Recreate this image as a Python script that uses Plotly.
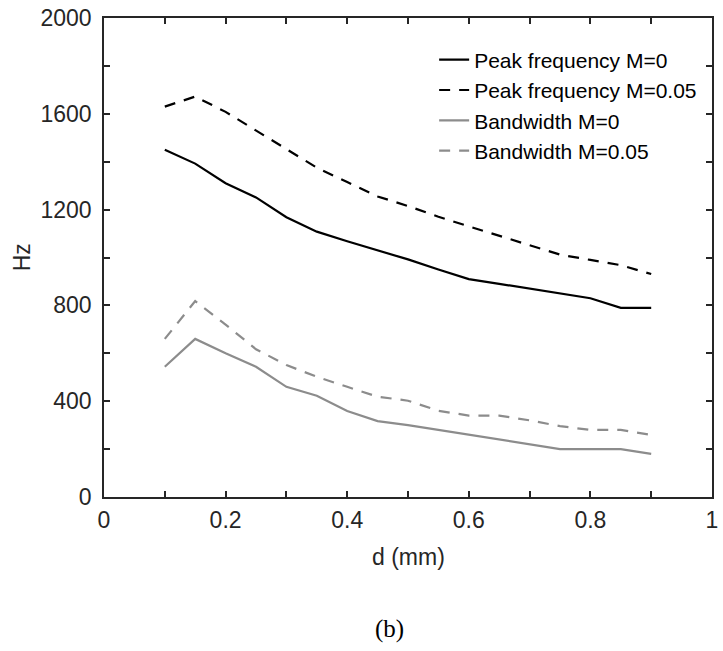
import plotly.graph_objects as go

d = [0.1, 0.15, 0.2, 0.25, 0.3, 0.35, 0.4, 0.45, 0.5, 0.55, 0.6, 0.65, 0.7, 0.75, 0.8, 0.85, 0.9]
peak_m0 = [1450, 1392, 1310, 1251, 1168, 1108, 1068, 1030, 992, 950, 910, 890, 870, 850, 830, 790, 790]
peak_m005 = [1630, 1672, 1608, 1530, 1455, 1375, 1315, 1255, 1215, 1170, 1130, 1090, 1050, 1012, 990, 968, 931]
bw_m0 = [544, 660, 600, 544, 460, 423, 359, 317, 300, 280, 260, 240, 220, 200, 200, 200, 180]
bw_m005 = [660, 818, 720, 617, 551, 502, 460, 419, 402, 360, 340, 340, 320, 296, 280, 280, 259]

series_names = ["Peak frequency M=0", "Peak frequency M=0.05", "Bandwidth M=0", "Bandwidth M=0.05"]

x_tickvals = [0, 0.1, 0.2, 0.3, 0.4, 0.5, 0.6, 0.7, 0.8, 0.9, 1]
x_ticktext = ["0", "", "0.2", "", "0.4", "", "0.6", "", "0.8", "", "1"]
y_tickvals = [0, 200, 400, 600, 800, 1000, 1200, 1400, 1600, 1800, 2000]
y_ticktext = ["0", "", "400", "", "800", "", "1200", "", "1600", "", "2000"]

AX = "#262626"
FONT = "Liberation Sans, Arial, sans-serif"

fig = go.Figure()
styles = [
    (peak_m0, dict(color="black", width=2.2, dash="solid")),
    (peak_m005, dict(color="black", width=2.2, dash="11px,9px")),
    (bw_m0, dict(color="#8c8c8c", width=2.2, dash="solid")),
    (bw_m005, dict(color="#8c8c8c", width=2.2, dash="11px,9px")),
]
for name, (vals, ln) in zip(series_names, styles):
    fig.add_trace(go.Scatter(x=d, y=vals, mode="lines", name=name, line=ln))

axis_common = dict(
    showgrid=False, zeroline=False, showline=True, linecolor=AX, linewidth=1.5,
    mirror="ticks", ticks="inside", ticklen=6, tickwidth=1.5, tickcolor=AX,
    tickfont=dict(family=FONT, size=23, color=AX),
)
fig.update_xaxes(range=[0, 1], tickvals=x_tickvals, ticktext=x_ticktext,
                 ticklabelstandoff=2, **axis_common)
fig.update_yaxes(range=[0, 2000], tickvals=y_tickvals, ticktext=y_ticktext,
                 ticklabelstandoff=6, **axis_common)

fig.update_layout(
    width=723, height=651,
    margin=dict(l=104, r=5, t=18, b=154),
    paper_bgcolor="white", plot_bgcolor="white",
    font=dict(family=FONT, color=AX),
    legend=dict(x=0.543, y=0.955, xanchor="left", yanchor="top",
                bgcolor="rgba(0,0,0,0)", borderwidth=0,
                font=dict(family=FONT, size=21, color="black"),
                tracegroupgap=0, itemwidth=30),
    annotations=[
        dict(text="Hz", x=(21 - 104) / 614, y=0.5, xref="paper", yref="paper", textangle=-90,
             showarrow=False, font=dict(family=FONT, size=23, color=AX),
             xanchor="center", yanchor="middle"),
        dict(text="d (mm)", x=0.5, y=-0.125, xref="paper", yref="paper",
             showarrow=False, font=dict(family=FONT, size=23, color=AX),
             xanchor="center", yanchor="middle"),
        dict(text="(b)", x=0.469, y=-0.276, xref="paper", yref="paper",
             showarrow=False, font=dict(family="Liberation Serif, Times New Roman, serif", size=25, color="black"),
             xanchor="center", yanchor="middle"),
    ],
)

fig.write_html("out.html")
